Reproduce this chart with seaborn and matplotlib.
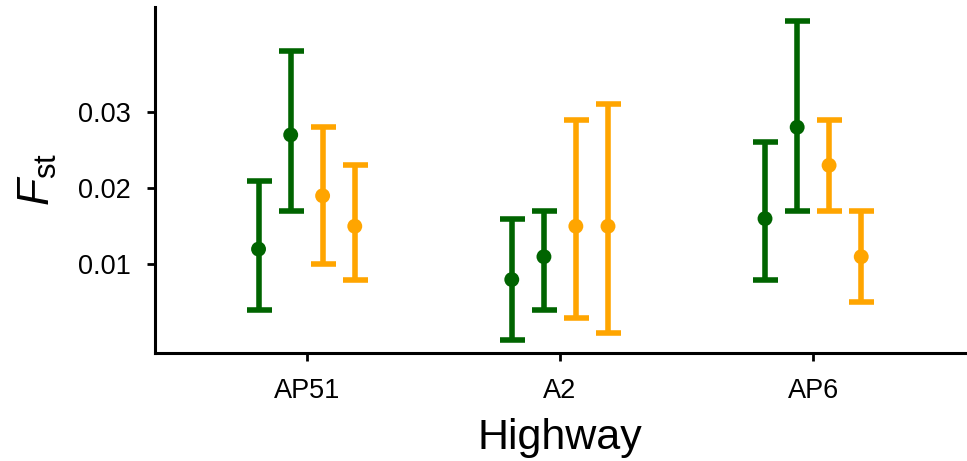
import matplotlib
matplotlib.use("Agg")
import matplotlib.pyplot as plt
import seaborn as sns
import numpy as np
import pandas as pd

highways = ["AP51", "A2", "AP6"]
groups = ["g1", "g2", "o1", "o2"]
group_colors = ["#006400", "#006400", "#FFA500", "#FFA500"]
group_offsets = [-0.19, -0.063, 0.063, 0.19]

fst_mean = {
    "g1": [0.012, 0.008, 0.016],
    "g2": [0.027, 0.011, 0.028],
    "o1": [0.019, 0.015, 0.023],
    "o2": [0.015, 0.015, 0.011],
}
fst_low = {
    "g1": [0.004, 0.000, 0.008],
    "g2": [0.017, 0.004, 0.017],
    "o1": [0.010, 0.003, 0.017],
    "o2": [0.008, 0.001, 0.005],
}
fst_high = {
    "g1": [0.021, 0.016, 0.026],
    "g2": [0.038, 0.017, 0.042],
    "o1": [0.028, 0.029, 0.029],
    "o2": [0.023, 0.031, 0.017],
}

y_ticks = [0.01, 0.02, 0.03]
y_ticklabels = ["0.01", "0.02", "0.03"]

rows = []
for g in groups:
    for i, h in enumerate(highways):
        rows.append(dict(highway=h, group=g, fst=fst_mean[g][i],
                         low=fst_low[g][i], high=fst_high[g][i]))
df = pd.DataFrame(rows)

sns.set_theme(style="ticks")
plt.rcParams['font.family'] = ['Liberation Sans', 'DejaVu Sans']
plt.rcParams['mathtext.fontset'] = 'custom'
plt.rcParams['mathtext.it'] = 'Liberation Sans:italic'
plt.rcParams['mathtext.rm'] = 'Liberation Sans'

fig, ax = plt.subplots(figsize=(9.67, 4.61), dpi=100)
for g, c, off in zip(groups, group_colors, group_offsets):
    sub = df[df.group == g]
    x = np.array([highways.index(h) for h in sub.highway]) + off
    y = sub.fst.values
    ax.errorbar(x, y, yerr=[y - sub.low.values, sub.high.values - y],
                fmt="none", ecolor=c, elinewidth=4, capsize=9, capthick=4, zorder=2)
    sns.scatterplot(x=x, y=y, color=c, s=115, edgecolor="none", ax=ax, zorder=3)

ax.set_xlim(-0.6, 2.6)
ax.set_ylim(-0.0016, 0.0438)
ax.set_xticks(range(len(highways)))
ax.set_xticklabels(highways)
ax.set_yticks(y_ticks)
ax.set_yticklabels(y_ticklabels)
ax.tick_params(axis="both", labelsize=19.5, width=2, length=6,
               color="black", labelcolor="black")
ax.tick_params(axis="x", pad=12)
ax.tick_params(axis="y", pad=11)
for s in ["left", "bottom"]:
    ax.spines[s].set_linewidth(2.2)
    ax.spines[s].set_color("black")
sns.despine(ax=ax)
ax.set_xlabel("Highway", fontsize=31, color="black", labelpad=10)
ax.set_ylabel(r"$\mathit{F}_{\mathrm{st}}$", fontsize=32, color="black", labelpad=14)
fig.subplots_adjust(left=0.16, right=0.998, top=0.985, bottom=0.235)
fig.savefig("out.png", dpi=100)
